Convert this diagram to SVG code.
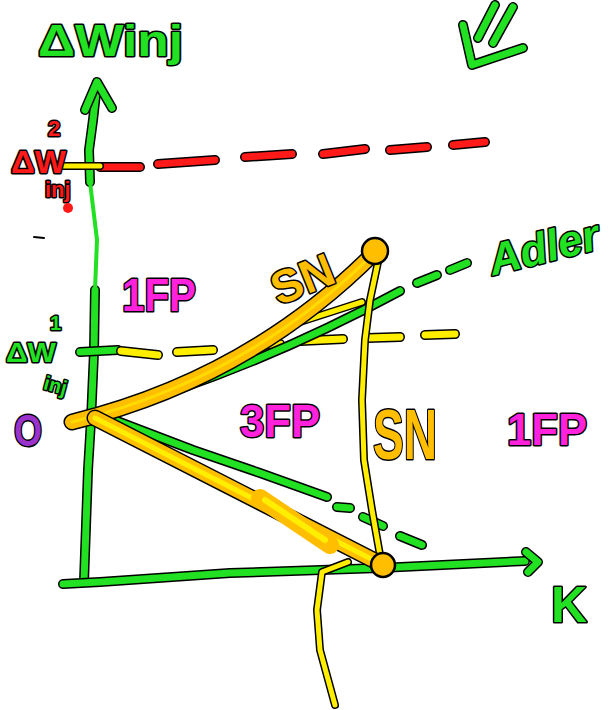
<svg xmlns="http://www.w3.org/2000/svg" xmlns:xlink="http://www.w3.org/1999/xlink" width="613" height="710" viewBox="0 0 613 710">
<style>
path,line{fill:none;stroke-linecap:round;stroke-linejoin:round}
.k5{stroke:#000;stroke-width:8}
.k7{stroke:#000;stroke-width:10}
.k14{stroke:#000;stroke-width:17}
.g5{stroke:#22e022;stroke-width:5}
.g7{stroke:#22e022;stroke-width:7}
.y5{stroke:#ffee00;stroke-width:5}
.y7{stroke:#ffee00;stroke-width:7}
.r7{stroke:#ff1a1a;stroke-width:7}
.o14{stroke:#ffbf00;stroke-width:14}
.ycore{stroke:#ffee00;stroke-width:5}
.lg{stroke:#22e022;stroke-width:4}
text{font-family:"Liberation Sans",Arial,sans-serif;font-weight:bold;paint-order:stroke;stroke:#000;stroke-width:3;stroke-linejoin:round}
.tg{fill:#22e022}
.tr{fill:#ff1a1a}
.tm{fill:#ff22dd}
.to{fill:#ffbf00}
.tp{fill:#9933cc}
</style>
<defs>
<path id="vax1" d="M84,582 L88,470 L91,420 L94,352 L95,290"/>
<path id="vax2" d="M95,290 L97,240 L90,182"/>
<path id="vax3" d="M90,182 L89,150 L93,120 L97,84"/>
<path id="vhead" d="M85,110 L97,82 L112,108"/>
<path id="hax" d="M63,584 L100,582 L230,573 L380,568 L525,561"/>
<path id="hhead" d="M526,552 L538,562 L528,572"/>
<path id="adler" d="M94,416 Q250,372 400,291"/>
<path id="lowg" d="M96,413 L193,450 L260,473 L327,497"/>
<path id="upo" d="M72,422 Q250,378 375,252"/>
<path id="lowo" d="M95,418 L383,565"/>
<path id="vsn" d="M378,262 L370,300 L365,340 L362,400 L364,460 L372,510 L380,555"/>
<path id="bsn" d="M348,562 L322,572 L317,610 L320,650 L335,705"/>
</defs>

<g id="axes">
<use xlink:href="#vax1" class="k7"/><use xlink:href="#vax3" class="k7"/>
<use xlink:href="#vax1" class="g7"/><use xlink:href="#vax2" class="lg"/><use xlink:href="#vax3" class="g7"/>
<use xlink:href="#vhead" class="k7"/><use xlink:href="#vhead" class="g7"/>
<use xlink:href="#hax" class="k7"/><use xlink:href="#hax" class="g7"/>
<use xlink:href="#hhead" class="k7"/><use xlink:href="#hhead" class="g7"/>
</g>

<g id="connectors">
<path class="k7" d="M100,167 L140,167 M158,164 L215,160 M245,157 L292,154 M323,154 L365,149 M390,150 L427,147 M453,145 L485,142"/>
<path class="r7" d="M100,167 L140,167 M158,164 L215,160 M245,157 L292,154 M323,154 L365,149 M390,150 L427,147 M453,145 L485,142"/>
<path class="k5" d="M62,166 L100,166"/><path class="y5" d="M62,166 L100,166"/>
<path class="k7" d="M80,352 L118,350"/><path class="g7" d="M80,352 L118,350"/>
<path class="k7" d="M121,351 L158,355 M177,352 L213,350 M260,345 L280,344 M300,341 L343,339 M367,338 L400,337 M425,335 L455,334"/>
<path class="y7" d="M121,351 L158,355 M177,352 L213,350 M260,345 L280,344 M300,341 L343,339 M367,338 L400,337 M425,335 L455,334"/>
<use xlink:href="#adler" class="k7"/><use xlink:href="#adler" class="g7"/>
<path class="k7" d="M417,283 L437,275 M450,270 L467,263"/>
<path class="g7" d="M417,283 L437,275 M450,270 L467,263"/>
<path class="k5" d="M300,322 L362,302"/><path class="y5" d="M300,322 L362,302"/>
<use xlink:href="#lowg" class="k7"/><use xlink:href="#lowg" class="g7"/>
<path class="k7" d="M337,507 L350,508 M363,517 L383,526 M400,536 L422,545"/>
<path class="g7" d="M337,507 L350,508 M363,517 L383,526 M400,536 L422,545"/>
<use xlink:href="#vsn" class="k5"/><use xlink:href="#vsn" class="y5"/>
<use xlink:href="#bsn" class="k5"/><use xlink:href="#bsn" class="y5"/>
<use xlink:href="#upo" class="k14"/><use xlink:href="#upo" class="o14"/><use xlink:href="#upo" class="ycore" style="stroke-width:3;opacity:0.6"/>
<use xlink:href="#lowo" class="k14"/><use xlink:href="#lowo" class="o14"/><use xlink:href="#lowo" class="ycore"/>
<path d="M260,498 L330,545" stroke="#ffbf00" stroke-width="18" stroke-linecap="round"/>
<path d="M265,500 L325,540" stroke="#ffee00" stroke-width="6"/>
</g>

<g id="node-upper-point"><circle cx="375" cy="251" r="13" fill="#ffbf00" stroke="#000" stroke-width="2.5"/></g>
<g id="node-lower-point"><circle cx="383" cy="565" r="12" fill="#ffbf00" stroke="#000" stroke-width="2.5"/></g>

<g id="mark-top-right">
<path class="k7" d="M463,25 L472,65 L523,48 M495,5 L478,38 M513,7 L493,43"/>
<path class="g7" d="M463,25 L472,65 L523,48 M495,5 L478,38 M513,7 L493,43"/>
</g>
<path d="M34,237 L44,238" stroke="#000" stroke-width="2"/>

<g id="label-y-axis"><text class="tg" x="38" y="56" font-size="44" textLength="145" lengthAdjust="spacingAndGlyphs">ΔWinj</text></g>
<g id="label-dw2">
<text class="tr" x="48" y="136" font-size="22">2</text>
<text class="tr" x="11" y="173" font-size="32" textLength="55" lengthAdjust="spacingAndGlyphs">ΔW</text>
<text class="tr" x="45" y="197" font-size="22">inj</text>
<circle cx="68" cy="208" r="5" fill="#ff1a1a"/>
</g>
<g id="label-dw1">
<text class="tg" x="50" y="330" font-size="20">1</text>
<text class="tg" x="6" y="362" font-size="28" textLength="50" lengthAdjust="spacingAndGlyphs">ΔW</text>
<text class="tg" x="44" y="393" font-size="20" transform="rotate(15 58 385)">inj</text>
</g>
<g id="label-origin"><text class="tp" x="14" y="446" font-size="44" textLength="28" lengthAdjust="spacingAndGlyphs">O</text></g>
<g id="label-1fp-left"><text class="tm" x="122" y="311" font-size="46" textLength="74" lengthAdjust="spacingAndGlyphs">1FP</text></g>
<g id="label-3fp"><text class="tm" x="240" y="437" font-size="46" textLength="80" lengthAdjust="spacingAndGlyphs">3FP</text></g>
<g id="label-1fp-right"><text class="tm" x="507" y="445" font-size="44" textLength="80" lengthAdjust="spacingAndGlyphs">1FP</text></g>
<g id="label-sn-upper"><text class="to" x="302" y="295" font-size="46" font-weight="normal" text-anchor="middle" transform="rotate(-22 302 278)">SN</text></g>
<g id="label-sn-lower"><text class="to" x="373" y="459" font-size="70" font-weight="normal" textLength="64" lengthAdjust="spacingAndGlyphs">SN</text></g>
<g id="label-adler"><text class="tg" x="486" y="262" font-size="44" font-style="italic" textLength="112" lengthAdjust="spacingAndGlyphs" transform="rotate(-14 545 240)">Adler</text></g>
<g id="label-k"><text class="tg" x="551" y="622" font-size="50" textLength="36" lengthAdjust="spacingAndGlyphs">K</text></g>
</svg>
